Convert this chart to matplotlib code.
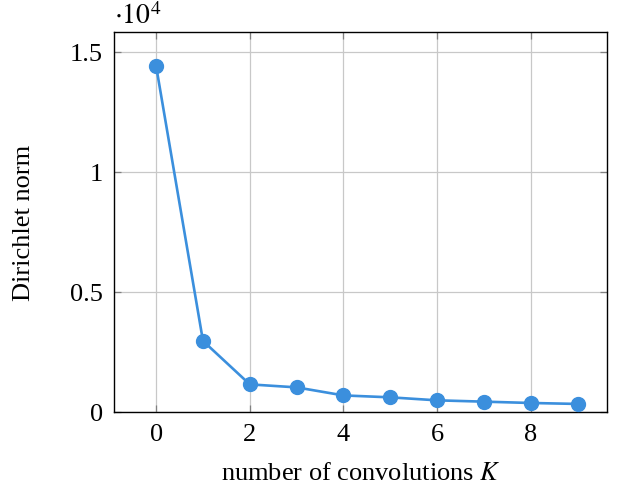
import numpy as np
import matplotlib
matplotlib.use('Agg')
import matplotlib.pyplot as plt

plt.rcParams['font.family'] = 'serif'
plt.rcParams['font.serif'] = ['Liberation Serif', 'DejaVu Serif']
plt.rcParams['mathtext.fontset'] = 'stix'
plt.rcParams['axes.unicode_minus'] = False

# data
K = [0, 1, 2, 3, 4, 5, 6, 7, 8, 9]
dirichlet = [14400, 2960, 1150, 1025, 690, 610, 485, 430, 375, 335]
yticks = [0, 5000, 10000, 15000]
ytick_labels = ['0', '0.5', '1', '1.5']
xticks = [0, 2, 4, 6, 8]

fs = 19

fig = plt.figure(figsize=(6.21, 4.85), dpi=100)
ax = fig.add_axes([0.1836, 0.1485, 0.7939, 0.7835])

ax.plot(K, dirichlet, color='#3b8fdd', lw=1.9, marker='o', markersize=10, zorder=3)

ax.set_xlim(-0.9, 9.63)
ax.set_ylim(0, 15830)
ax.set_xticks(xticks)
ax.set_xticklabels([str(x) for x in xticks])
ax.set_yticks(yticks)
ax.set_yticklabels(ytick_labels)
ax.grid(True, color='#c8c8c8', lw=0.9)
ax.set_axisbelow(True)
ax.tick_params(direction='in', top=True, right=True, length=5, width=0.9,
               color='#808080', labelsize=fs, pad=8)
for s in ax.spines.values():
    s.set_linewidth(1.0)

ax.set_xlabel(r'number of convolutions $K$', fontsize=fs, labelpad=12)
ax.set_ylabel('Dirichlet norm', fontsize=fs, labelpad=25)
ax.text(0.0, 1.008, r'$\cdot 10^4$', transform=ax.transAxes, fontsize=fs + 1,
        ha='left', va='bottom')

fig.savefig('out.png', dpi=100)
